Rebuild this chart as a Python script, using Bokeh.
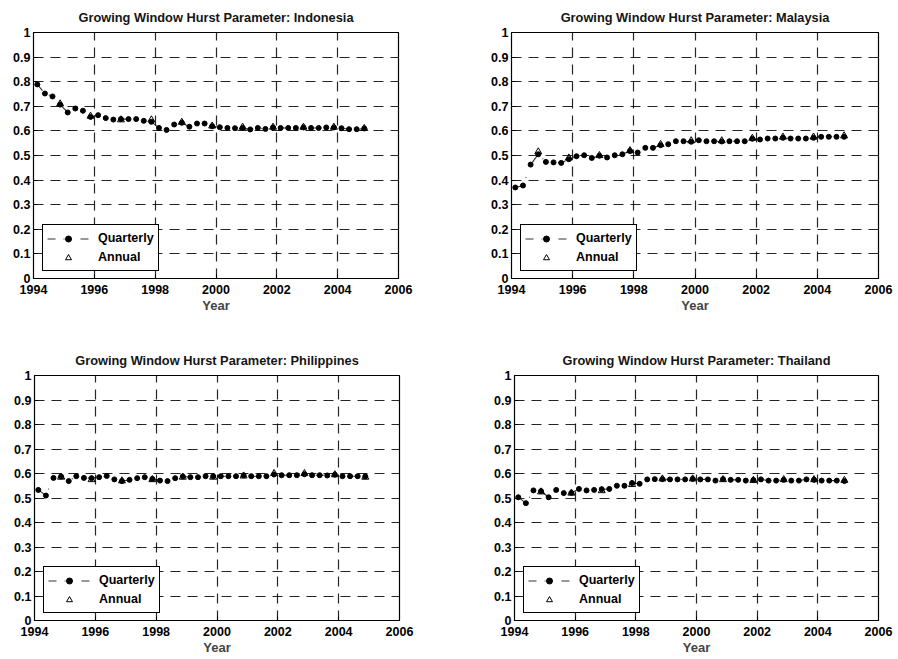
from bokeh.plotting import figure
from bokeh.layouts import column, row
from bokeh.models import Range1d, FixedTicker, Legend, LegendItem
from bokeh.embed import file_html
from bokeh.resources import INLINE

years = list(range(1994, 2005))
quarter_times = [y + (q - 0.5) / 4 for y in years for q in range(1, 5)]
annual_times = [y + 0.875 for y in years]

x_ticks = [1994, 1996, 1998, 2000, 2002, 2004, 2006]
y_ticks = [0, 0.1, 0.2, 0.3, 0.4, 0.5, 0.6, 0.7, 0.8, 0.9, 1]

indonesia_q = [0.789, 0.752, 0.740, 0.707, 0.675, 0.691, 0.682, 0.657, 0.664, 0.652, 0.646,
               0.648, 0.648, 0.648, 0.641, 0.637, 0.612, 0.604, 0.626, 0.633, 0.617, 0.630,
               0.630, 0.619, 0.615, 0.612, 0.611, 0.612, 0.606, 0.612, 0.608, 0.614, 0.612,
               0.612, 0.612, 0.614, 0.612, 0.612, 0.614, 0.614, 0.611, 0.607, 0.607, 0.610]
indonesia_a = [0.710, 0.660, 0.645, 0.645, 0.635, 0.620, 0.615, 0.615, 0.615, 0.615, 0.610]

malaysia_q = [0.370, 0.378, 0.463, 0.505, 0.474, 0.472, 0.470, 0.485, 0.497, 0.501, 0.490,
              0.499, 0.492, 0.501, 0.505, 0.518, 0.512, 0.531, 0.531, 0.542, 0.546, 0.558,
              0.558, 0.556, 0.562, 0.558, 0.558, 0.557, 0.558, 0.558, 0.558, 0.568, 0.565,
              0.569, 0.569, 0.572, 0.569, 0.569, 0.569, 0.572, 0.576, 0.576, 0.576, 0.576]
malaysia_a = [0.515, 0.490, 0.500, 0.520, 0.545, 0.560, 0.560, 0.570, 0.575, 0.575, 0.580]

philippines_q = [0.533, 0.510, 0.582, 0.588, 0.569, 0.589, 0.582, 0.581, 0.585, 0.590, 0.576,
                 0.569, 0.574, 0.581, 0.585, 0.578, 0.571, 0.569, 0.581, 0.588, 0.585, 0.585,
                 0.589, 0.589, 0.589, 0.589, 0.589, 0.592, 0.589, 0.589, 0.589, 0.596, 0.593,
                 0.593, 0.593, 0.597, 0.593, 0.593, 0.592, 0.595, 0.589, 0.589, 0.589, 0.588]
philippines_a = [0.585, 0.575, 0.570, 0.575, 0.585, 0.585, 0.590, 0.600, 0.600, 0.595, 0.585]

thailand_q = [0.503, 0.479, 0.531, 0.528, 0.503, 0.533, 0.520, 0.521, 0.537, 0.531, 0.533,
              0.536, 0.537, 0.550, 0.550, 0.561, 0.558, 0.576, 0.577, 0.577, 0.576, 0.576,
              0.576, 0.578, 0.576, 0.576, 0.571, 0.577, 0.574, 0.574, 0.571, 0.573, 0.576,
              0.571, 0.571, 0.574, 0.571, 0.571, 0.576, 0.574, 0.571, 0.571, 0.571, 0.569]
thailand_a = [0.525, 0.520, 0.530, 0.555, 0.578, 0.578, 0.575, 0.572, 0.575, 0.575, 0.572]

series = {
    "Indonesia": (indonesia_q, indonesia_a),
    "Malaysia": (malaysia_q, malaysia_a),
    "Philippines": (philippines_q, philippines_a),
    "Thailand": (thailand_q, thailand_a),
}

FONT = "Liberation Sans"


def make_panel(name, width, height, left, right, top, bottom):
    q_vals, a_vals = series[name]
    p = figure(width=width, height=height, output_backend="svg", toolbar_location=None,
               x_range=Range1d(1994, 2006), y_range=Range1d(0, 1),
               min_border_left=left, min_border_right=right,
               min_border_top=top, min_border_bottom=bottom)
    p.title.text = "Growing Window Hurst Parameter: " + name
    p.title.align = "center"
    p.title.vertical_align = "top"
    p.title.text_font = FONT
    p.title.text_font_size = "12.8px"
    p.title.text_font_style = "bold"
    p.title.text_color = "#151515"
    p.title.standoff = 12

    p.outline_line_color = "black"
    p.outline_line_width = 1.2
    p.outline_line_alpha = 1

    for ax in (p.xaxis[0], p.yaxis[0]):
        ax.major_label_text_font = FONT
        ax.major_label_text_font_size = "12.5px"
        ax.major_label_text_font_style = "bold"
        ax.major_label_text_color = "black"
        ax.axis_line_color = "black"
        ax.major_tick_line_color = "black"
        ax.major_tick_in = 4
        ax.major_tick_out = 0
        ax.minor_tick_line_color = None
    p.xaxis[0].ticker = FixedTicker(ticks=x_ticks)
    p.yaxis[0].ticker = FixedTicker(ticks=y_ticks)
    p.yaxis[0].major_label_overrides = {0: "0", 1: "1"}
    p.xaxis[0].major_label_standoff = 6
    p.yaxis[0].major_label_standoff = 3
    p.xaxis[0].axis_label = "Year"
    p.xaxis[0].axis_label_text_font = FONT
    p.xaxis[0].axis_label_text_font_size = "13px"
    p.xaxis[0].axis_label_text_font_style = "bold"
    p.xaxis[0].axis_label_standoff = 1

    p.grid.grid_line_color = "black"
    p.grid.grid_line_dash = "10 7"
    p.grid.grid_line_width = 1.2
    p.grid.grid_line_alpha = 0.85
    p.xgrid[0].ticker = FixedTicker(ticks=x_ticks)
    p.ygrid[0].ticker = FixedTicker(ticks=y_ticks)

    ln = p.line(quarter_times, q_vals, line_color="black", line_width=1.1,
                line_dash="8 8 1 16", line_alpha=0.8)
    dots = p.scatter(quarter_times, q_vals, marker="circle", size=5,
                     fill_color="black", line_color="black")
    tri = p.scatter(annual_times, a_vals, marker="triangle", size=7,
                    fill_color=None, line_color="black", line_width=1)

    legend = Legend(items=[LegendItem(label="Quarterly", renderers=[ln, dots]),
                           LegendItem(label="Annual", renderers=[tri])],
                    location=(9, 7))
    legend.label_text_font = FONT
    legend.label_text_font_size = "12.5px"
    legend.label_text_font_style = "bold"
    legend.label_text_color = "black"
    legend.border_line_color = "black"
    legend.border_line_width = 1.2
    legend.border_line_alpha = 1
    legend.background_fill_color = "white"
    legend.background_fill_alpha = 1
    legend.glyph_width = 42
    legend.glyph_height = 15
    legend.label_height = 18
    legend.label_standoff = 9
    legend.padding = 4
    legend.spacing = 1
    legend.margin = 0
    p.add_layout(legend, "center")
    return p


p1 = make_panel("Indonesia", 449, 330, 33, 51, 32, 52)
p2 = make_panel("Malaysia", 449, 330, 62, 20, 32, 52)
p3 = make_panel("Philippines", 449, 329, 34, 50, 45, 39)
p4 = make_panel("Thailand", 449, 329, 65, 20, 45, 39)

layout = column(row(p1, p2, spacing=0), row(p3, p4, spacing=0), spacing=0)

open("out.html", "w").write(file_html(layout, INLINE))
